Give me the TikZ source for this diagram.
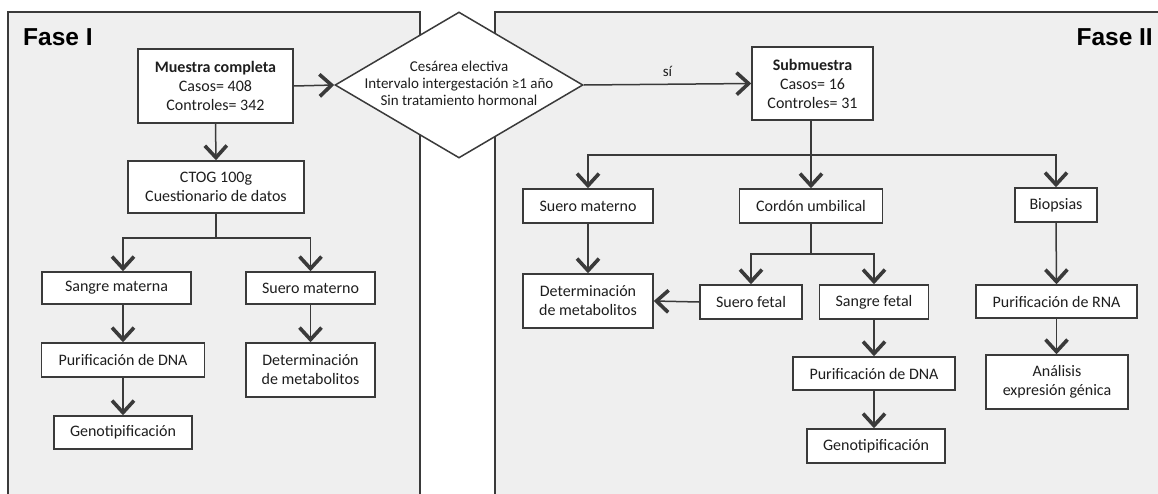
\documentclass[tikz,border=0pt]{standalone}
\usepackage{fontspec}
\setmainfont{Carlito}
\newfontfamily\titlefont{Liberation Sans}
\usetikzlibrary{arrows.meta,shapes.geometric,calc}
\definecolor{panelgray}{HTML}{EFEFEF}
\definecolor{linegray}{HTML}{3A3A3A}
\definecolor{textgray}{HTML}{1E1E1E}
\tikzset{
  box/.style={draw=linegray, line width=1.5pt, fill=white, align=center, inner sep=0pt,
    font=\fontsize{16}{19}\selectfont, text=textgray},
  panel/.style={draw=linegray, line width=1.5pt, fill=panelgray},
  conn/.style={draw=linegray, line width=1.5pt},
  arrtip/.tip={Straight Barb[length=12pt,width=22pt,line width=3.6pt]},
  arr/.style={conn, -arrtip},
  title/.style={font=\titlefont\bfseries\fontsize{24.5}{28}\selectfont, text=black, inner sep=0pt}
}
\begin{document}
\begin{tikzpicture}[x=1pt,y=-1pt]
\clip (0,0) rectangle (1158,493);
\fill[white] (0,0) rectangle (1158,493);
% panels
\path[panel] (8,12) rectangle (420,520);
\path[panel] (495,12) rectangle (1180,520);
\node[title, anchor=base west] (f1) at (23,45) {Fase I};
\node[title, anchor=base east] (f2) at (1153,45) {Fase II};
% phase I nodes
\node[box, minimum width=155pt, minimum height=74pt] (mc) at (215.5,86)
  {\textbf{Muestra completa}\\Casos= 408\\Controles= 342};
\node[box, minimum width=176pt, minimum height=52pt] (ctog) at (216,187)
  {CTOG 100g\\Cuestionario de datos};
\node[box, minimum width=149pt, minimum height=32pt] (sm1) at (116.5,288) {Sangre materna};
\node[box, minimum width=129pt, minimum height=32pt] (sue1) at (310.5,288) {Suero materno};
\node[box, minimum width=163pt, minimum height=34pt] (pdna1) at (123,360) {Purificación de DNA};
\node[box, minimum width=138pt, minimum height=33pt] (geno1) at (123,432.5) {Genotipificación};
\node[box, minimum width=129pt, minimum height=54pt] (det1) at (310.5,370)
  {Determinación\\de metabolitos};
% decision
\node[diamond, draw=linegray, line width=1.5pt, fill=white, inner sep=0pt,
  minimum width=248pt, minimum height=146pt] (dia) at (459,85) {};
\node[align=center, inner sep=0pt, text=textgray, font=\fontsize{15}{17}\selectfont] (diat) at (459,83)
  {Cesárea electiva\\Intervalo intergestación ≥1 año\\Sin tratamiento hormonal};
% phase II nodes
\node[box, minimum width=121pt, minimum height=73pt] (subm) at (812.5,83.5)
  {\textbf{Submuestra}\\Casos= 16\\Controles= 31};
\node[box, minimum width=130pt, minimum height=34pt] (sue2) at (588,206) {Suero materno};
\node[box, minimum width=143pt, minimum height=34pt] (cord) at (811,206) {Cordón umbilical};
\node[box, minimum width=82pt, minimum height=34pt] (bio) at (1056,205) {Biopsias};
\node[box, minimum width=130pt, minimum height=54pt] (det2) at (588,301)
  {Determinación\\de metabolitos};
\node[box, minimum width=102pt, minimum height=34pt] (suef) at (751,302) {Suero fetal};
\node[box, minimum width=109pt, minimum height=34pt] (sanf) at (874,302) {Sangre fetal};
\node[box, minimum width=162pt, minimum height=33pt] (pdna2) at (874,373.5) {Purificación de DNA};
\node[box, minimum width=138pt, minimum height=34pt] (geno2) at (876,446) {Genotipificación};
\node[box, minimum width=161pt, minimum height=33pt] (prna) at (1056.5,301.5) {Purificación de RNA};
\node[box, minimum width=142pt, minimum height=54pt] (ana) at (1057,382)
  {Análisis\\expresión génica};
% connectors phase I
\draw[arr] (mc.east) -- (dia.west);
\draw[arr] (mc.south) -- (ctog.north);
\draw[conn] (ctog.south) -- ++(0,24) coordinate (j1);
\draw[arr] (j1) -| (geno1.north |- sm1.north);
\draw[arr] (j1) -| (sue1.north);
\draw[arr] (geno1.north |- sm1.south) -- (pdna1.north);
\draw[arr] (pdna1.south) -- (geno1.north);
\draw[arr] (sue1.south) -- (det1.north);
% connectors phase II
\draw[arr] (dia.east) -- node[above=4pt, text=textgray, font=\fontsize{15}{17}\selectfont] (si) {sí} (subm.west);
\draw[conn] (cord.north |- subm.south) -- (cord.north |- 0,155) coordinate (j2);
\draw[arr] (j2) -- (cord.north);
\draw[arr] (j2) -| (sue2.north);
\draw[arr] (j2) -| (bio.north);
\draw[arr] (sue2.south) -- (det2.north);
\draw[conn] (cord.south) -- ++(0,30) coordinate (j3);
\draw[arr] (j3) -| (suef.north);
\draw[arr] (j3) -| (sanf.north);
\draw[arr] (suef.west) -- (det2.east);
\draw[arr] (sanf.south) -- (pdna2.north);
\draw[arr] (pdna2.south) -- (pdna2.south |- geno2.north);
\draw[arr] (bio.south) -- (prna.north);
\draw[arr] (prna.south) -- (prna.south |- ana.north);
\end{tikzpicture}
\end{document}
